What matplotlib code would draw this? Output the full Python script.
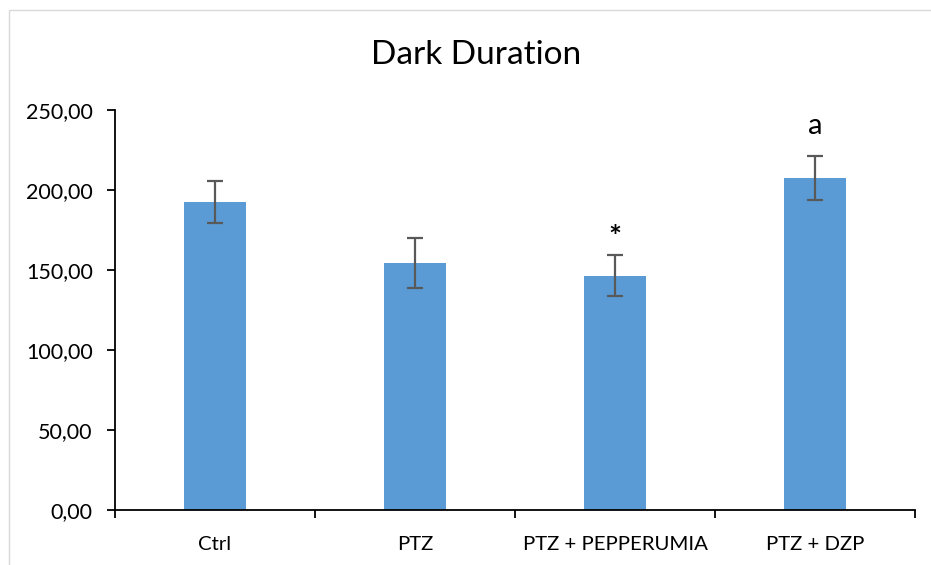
import matplotlib.pyplot as plt
from matplotlib.patches import Rectangle
from matplotlib.ticker import FuncFormatter, FixedLocator

# data
groups = ["Ctrl", "PTZ", "PTZ + PEPPERUMIA", "PTZ + DZP"]
means = [192.3, 154.3, 146.5, 207.4]
errors = [13.1, 15.6, 12.8, 13.8]
marks = ["", "", "*", "a"]

plt.rcParams["font.family"] = ["Lato", "DejaVu Sans"]

fig = plt.figure(figsize=(9.31, 5.65), dpi=100)
# light chart-area border
fig.patches.append(Rectangle((9 / 931, -0.01), 1.0, 1 - 10 / 565 + 0.01,
                             transform=fig.transFigure, fill=False,
                             edgecolor="#d9d9d9", linewidth=1.0))

ax = fig.add_axes([115 / 931, 1 - 510 / 565, 800 / 931, 400 / 565])
x = list(range(len(groups)))
ax.bar(x, means, width=0.31, color="#5b9bd5", zorder=2)
ax.errorbar(x, means, yerr=errors, fmt="none", ecolor="#595959",
            elinewidth=1.6, capsize=6, capthick=1.6, zorder=3)

for xi, m, e, t in zip(x, means, errors, marks):
    if t == "*":
        ax.annotate(t, (xi, m + e), xytext=(0, 2), textcoords="offset points",
                    ha="center", va="bottom", fontsize=22, fontweight="bold")
    elif t:
        ax.annotate(t, (xi, m + e), xytext=(0, 12), textcoords="offset points",
                    ha="center", va="bottom", fontsize=21)

ax.set_xlim(-0.5, len(groups) - 0.5)
ax.set_ylim(0, 250)
ax.set_yticks([0, 50, 100, 150, 200, 250])
ax.yaxis.set_major_formatter(FuncFormatter(lambda v, p: f"{v:.2f}".replace(".", ",")))

ax.set_xticks(x)
ax.set_xticklabels(groups)
ax.xaxis.set_minor_locator(FixedLocator([i - 0.5 for i in range(len(groups) + 1)]))
ax.tick_params(axis="x", which="major", length=0, pad=19, labelsize=14.7)
ax.tick_params(axis="x", which="minor", length=6, width=1.3, direction="out")
ax.tick_params(axis="y", length=6, width=1.3, pad=10, labelsize=15.5)

for s in ["top", "right"]:
    ax.spines[s].set_visible(False)
for s in ["left", "bottom"]:
    ax.spines[s].set_linewidth(1.3)

fig.text(476 / 931, 1 - 55 / 565, "Dark Duration", ha="center", va="center", fontsize=24)

fig.savefig("out.png", dpi=100)
